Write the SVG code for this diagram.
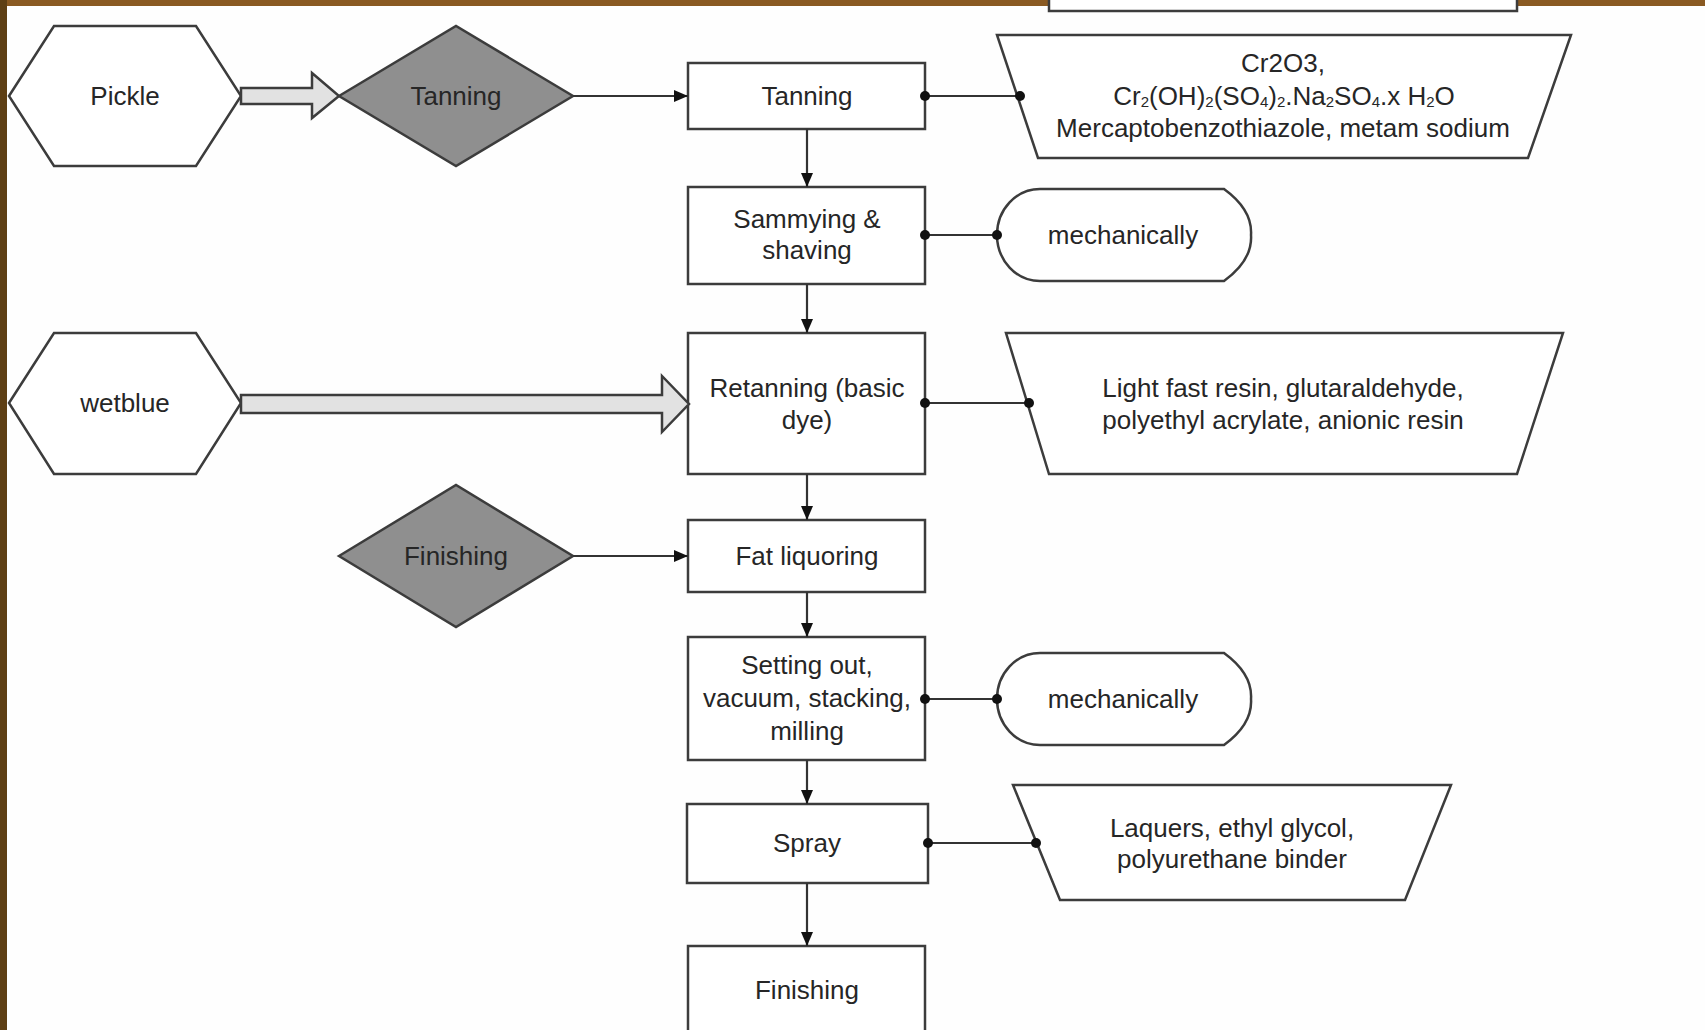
<svg xmlns="http://www.w3.org/2000/svg" width="1705" height="1030" viewBox="0 0 1705 1030">
<style>
.n{fill:#fff;stroke:#3c3c3c;stroke-width:2.5}
.d{fill:#8f8f8f;stroke:#3c3c3c;stroke-width:2.5}
.h{fill:#e2e2e2;stroke:#3c3c3c;stroke-width:2.5;stroke-linejoin:miter}
.t{font-family:"Liberation Sans",Arial,sans-serif;font-size:26px;fill:#262626;text-anchor:middle;dominant-baseline:central}
.c line{stroke:#333;stroke-width:2.2}
.dot{fill:#111}
.s{font-size:15px}
</style>
<defs>
<marker id="ah" markerWidth="14" markerHeight="12" refX="14" refY="6" orient="auto" markerUnits="userSpaceOnUse">
<path d="M0,0 L14,6 L0,12 Z" fill="#111"/>
</marker>
</defs>
<rect width="1705" height="1030" fill="#fefefe"/>
<rect x="0" y="0" width="1705" height="6" fill="#8a5a22"/>
<rect x="0" y="0" width="7" height="1030" fill="#5e3f14"/>

<g id="top-partial">
<rect class="n" x="1049" y="-10" width="468" height="21"/>
</g>

<g id="pickle">
<polygon class="n" points="9,96 54,26 196,26 241,96 196,166 54,166"/>
<text class="t" x="125" y="96">Pickle</text>
</g>
<g id="tanning-diamond">
<polygon class="d" points="339,96 456,26 573,96 456,166"/>
<text class="t" x="456" y="96">Tanning</text>
</g>
<g id="tanning">
<rect class="n" x="688" y="63" width="237" height="66"/>
<text class="t" x="807" y="96">Tanning</text>
</g>
<g id="chem1">
<polygon class="n" points="997,35 1571,35 1528,158 1038,158"/>
<text class="t" x="1283" y="63">Cr2O3,</text>
<text class="t" x="1284" y="96">Cr<tspan class="s" dy="5">2</tspan><tspan dy="-5">(OH)</tspan><tspan class="s" dy="5">2</tspan><tspan dy="-5">(SO</tspan><tspan class="s" dy="5">4</tspan><tspan dy="-5">)</tspan><tspan class="s" dy="5">2</tspan><tspan dy="-5">.Na</tspan><tspan class="s" dy="5">2</tspan><tspan dy="-5">SO</tspan><tspan class="s" dy="5">4</tspan><tspan dy="-5">.x H</tspan><tspan class="s" dy="5">2</tspan><tspan dy="-5">O</tspan></text>
<text class="t" x="1283" y="128">Mercaptobenzothiazole, metam sodium</text>
</g>
<g id="sammying">
<rect class="n" x="688" y="187" width="237" height="97"/>
<text class="t" x="807" y="219">Sammying &amp;</text>
<text class="t" x="807" y="250">shaving</text>
</g>
<g id="mech1">
<path class="n" d="M1040,189 H1224 C1246,205 1252,220 1251,235 C1252,250 1246,265 1224,281 H1040 A43,46 0 0 1 997,235 A43,46 0 0 1 1040,189 Z"/>
<text class="t" x="1123" y="235">mechanically</text>
</g>
<g id="wetblue">
<polygon class="n" points="9,403 54,333 196,333 241,403 196,474 54,474"/>
<text class="t" x="125" y="403">wetblue</text>
</g>
<g id="retanning">
<rect class="n" x="688" y="333" width="237" height="141"/>
<text class="t" x="807" y="388">Retanning (basic</text>
<text class="t" x="807" y="420">dye)</text>
</g>
<g id="chem2">
<polygon class="n" points="1006,333 1563,333 1517,474 1049,474"/>
<text class="t" x="1283" y="388">Light fast resin, glutaraldehyde,</text>
<text class="t" x="1283" y="420">polyethyl acrylate, anionic resin</text>
</g>
<g id="finishing-diamond">
<polygon class="d" points="339,556 456,485 573,556 456,627"/>
<text class="t" x="456" y="556">Finishing</text>
</g>
<g id="fat">
<rect class="n" x="688" y="520" width="237" height="72"/>
<text class="t" x="807" y="556">Fat liquoring</text>
</g>
<g id="setting">
<rect class="n" x="688" y="637" width="237" height="123"/>
<text class="t" x="807" y="665">Setting out,</text>
<text class="t" x="807" y="698">vacuum, stacking,</text>
<text class="t" x="807" y="731">milling</text>
</g>
<g id="mech2">
<path class="n" d="M1040,653 H1224 C1246,669 1252,684 1251,699 C1252,714 1246,729 1224,745 H1040 A43,46 0 0 1 997,699 A43,46 0 0 1 1040,653 Z"/>
<text class="t" x="1123" y="699">mechanically</text>
</g>
<g id="spray">
<rect class="n" x="687" y="804" width="241" height="79"/>
<text class="t" x="807" y="843">Spray</text>
</g>
<g id="chem3">
<polygon class="n" points="1013,785 1451,785 1405,900 1060,900"/>
<text class="t" x="1232" y="828">Laquers, ethyl glycol,</text>
<text class="t" x="1232" y="859">polyurethane binder</text>
</g>
<g id="finishing">
<rect class="n" x="688" y="946" width="237" height="110"/>
<text class="t" x="807" y="990">Finishing</text>
</g>

<g id="connectors" class="c">
<polygon class="h" points="241,88 312,88 312,73 339,96 312,118 312,104 241,104"/>
<polygon class="h" points="241,395 662,395 662,376 689,404 662,432 662,413 241,413"/>
<line x1="573" y1="96" x2="688" y2="96" marker-end="url(#ah)"/>
<line x1="573" y1="556" x2="688" y2="556" marker-end="url(#ah)"/>
<line x1="807" y1="129" x2="807" y2="187" marker-end="url(#ah)"/>
<line x1="807" y1="284" x2="807" y2="333" marker-end="url(#ah)"/>
<line x1="807" y1="474" x2="807" y2="520" marker-end="url(#ah)"/>
<line x1="807" y1="592" x2="807" y2="637" marker-end="url(#ah)"/>
<line x1="807" y1="760" x2="807" y2="804" marker-end="url(#ah)"/>
<line x1="807" y1="883" x2="807" y2="946" marker-end="url(#ah)"/>
<line x1="925" y1="96" x2="1020" y2="96"/>
<circle class="dot" cx="925" cy="96" r="5"/><circle class="dot" cx="1020" cy="96" r="5"/>
<line x1="925" y1="235" x2="997" y2="235"/>
<circle class="dot" cx="925" cy="235" r="5"/><circle class="dot" cx="997" cy="235" r="5"/>
<line x1="925" y1="403" x2="1029" y2="403"/>
<circle class="dot" cx="925" cy="403" r="5"/><circle class="dot" cx="1029" cy="403" r="5"/>
<line x1="925" y1="699" x2="997" y2="699"/>
<circle class="dot" cx="925" cy="699" r="5"/><circle class="dot" cx="997" cy="699" r="5"/>
<line x1="928" y1="843" x2="1036" y2="843"/>
<circle class="dot" cx="928" cy="843" r="5"/><circle class="dot" cx="1036" cy="843" r="5"/>
</g>
</svg>
